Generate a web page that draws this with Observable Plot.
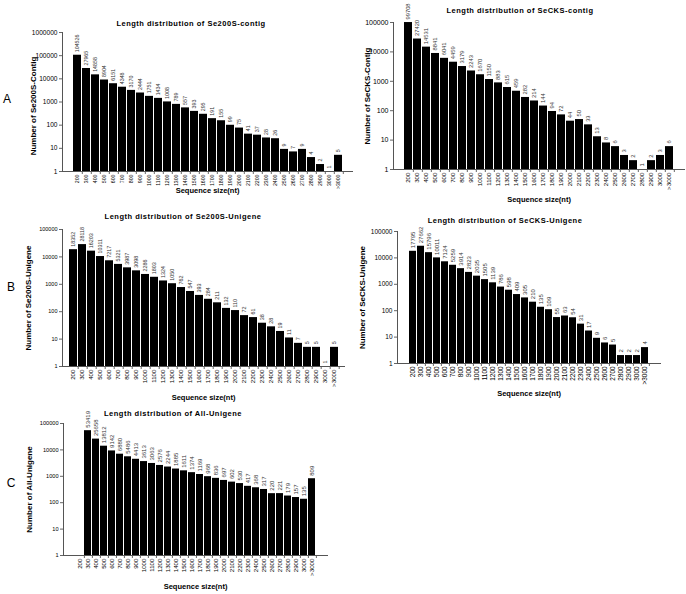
<!DOCTYPE html>
<html><head><meta charset="utf-8">
<script src="https://cdn.jsdelivr.net/npm/d3@7"></script>
<script src="https://cdn.jsdelivr.net/npm/@observablehq/plot@0.6"></script>
<style>
body{margin:0;background:#fff;}
#wrap{position:relative;width:686px;height:594px;font-family:"Liberation Sans",Arial,sans-serif;overflow:hidden;background:#fff;}
.panel{position:absolute;}
.title{position:absolute;font-weight:bold;font-size:7.5px;letter-spacing:0.5px;white-space:nowrap;line-height:1;transform:translate(-50%,-50%);color:#000;}
.letter{position:absolute;font-size:12px;line-height:1;transform:translate(-50%,-50%);color:#000;}
</style></head><body><div id="wrap"></div>
<script>
// ---- data ----
const sizes = ["200","300","400","500","600","700","800","900","1000","1100","1200","1300","1400","1500","1600","1700","1800","1900","2000","2100","2200","2300","2400","2500","2600","2700","2800","2900","3000",">3000"];
const se200sContig = [104526,27965,14858,8904,6151,4348,3170,2444,1751,1434,1008,789,557,393,295,191,155,99,75,41,37,28,26,9,7,9,4,2,1,5];
const secksContig = [99708,27420,14531,8841,6041,4459,3179,2243,1670,1150,883,615,459,282,214,144,94,72,44,50,33,13,8,6,3,2,1,2,3,6];
const se200sUnigene = [18352,28118,16203,10311,7217,5321,3987,3098,2286,1803,1324,1050,762,547,393,284,211,132,110,72,61,38,28,19,11,7,5,5,1,5];
const secksUnigene = [17795,27662,15796,10011,7124,5259,3914,2823,2035,1505,1139,786,598,409,305,210,135,109,55,63,54,31,17,9,6,5,2,2,2,4];
const allUnigene = [null,53419,25658,13812,9142,6880,5486,4413,3613,3063,2576,2244,1885,1611,1374,1169,968,836,697,602,530,417,368,317,220,221,179,157,135,809];
const titles = ["Length distribution of Se200S-contig","Length distribution of SeCKS-contig","Length distribution of Se200S-Unigene","Length distribution of SeCKS-Unigene","Length distribution of All-Unigene"];
const yTitles = ["Number of Se200S-Contig","Number of SeCKS-Contig","Number of Se200S-Unigene","Number of SeCKS-Unigene","Number of All-Unigene"];
const xTitle = "Sequence size(nt)";
const letters = ["A","B","C"];

// ---- layout ----
const layout = [
  {values: se200sContig, yMax:1e6, left:0, top:0, width:360, height:210, mL:62, mR:8, mT:32, mB:39, yDx:-29, yDy:4, xDy:19, fx:5.2, fy:6.6, fv:5.3, tx:191, ty:24},
  {values: secksContig, yMax:1e5, left:345, top:0, width:341, height:210, mL:48, mR:2, mT:22, mB:41, yDx:-26, yDy:0, xDy:30, fx:6.2, fy:7, fv:5.8, tx:520, ty:11},
  {values: se200sUnigene, yMax:1e5, left:0, top:210, width:355, height:200, mL:62, mR:11, mT:19, mB:44, yDx:-34, yDy:0, xDy:31, fx:6.2, fy:5.5, fv:5.4, tx:183, ty:217},
  {values: secksUnigene, yMax:1e5, left:345, top:210, width:341, height:200, mL:52, mR:26, mT:21, mB:47, yDx:-35, yDy:0, xDy:30, fx:6.4, fy:6.5, fv:6, tx:505, ty:221},
  {values: allUnigene, yMax:1e5, left:0, top:405, width:355, height:189, mL:63, mR:28, mT:18, mB:39, yDx:-34, yDy:0, xDy:31, fx:6.2, fy:5.6, fv:6, tx:173, ty:414}
];
const letterPos = [[7,99],[11,287],[11,483]];
const pad = 0.15;

const wrap = document.getElementById("wrap");
const font = '"Liberation Sans", Arial, sans-serif';

layout.forEach((p, k) => {
  const data = sizes.map((s, i) => ({size: s, count: p.values[i]})).filter(d => d.count != null);
  const ticks = d3.range(0, Math.round(Math.log10(p.yMax)) + 1).map(e => Math.pow(10, e));
  const step = (p.width - p.mL - p.mR) / (sizes.length - pad + 2 * pad);
  const chart = Plot.plot({
    width: p.width, height: p.height,
    marginLeft: p.mL, marginRight: p.mR, marginTop: p.mT, marginBottom: p.mB,
    style: {fontFamily: font, background: "transparent", color: "#000", overflow: "visible"},
    x: {domain: sizes, padding: pad, label: null},
    y: {type: "log", domain: [1, p.yMax], label: null},
    marks: [
      Plot.barY(data, {x: "size", y1: 1, y2: "count", fill: "#000"}),
      Plot.text(data, {x: "size", y: "count", text: d => String(d.count), rotate: -90, textAnchor: "start", dy: -3, fontSize: p.fv, fill: "#333"}),
      Plot.axisY({ticks, tickFormat: d3.format("d"), tickSize: 3, tickPadding: 2, fontSize: p.fy, stroke: "#666", label: null}),
      Plot.axisX({tickRotate: -90, tickSize: 0, tickPadding: 3, fontSize: p.fx, label: null}),
      Plot.axisX({tickSize: 3, tickFormat: () => "", dx: step / 2, stroke: "#666", label: null, ariaLabel: "x-minor"}),
      Plot.frame({anchor: "left", stroke: "#555"}),
      Plot.frame({anchor: "bottom", stroke: "#555"}),
      Plot.text([yTitles[k]], {text: d => d, frameAnchor: "left", textAnchor: "middle", lineAnchor: "middle", rotate: -90, dx: p.yDx, dy: p.yDy, fontSize: 8, fontWeight: "bold", ariaLabel: "ytitle"}),
      Plot.text([xTitle], {text: d => d, frameAnchor: "bottom", textAnchor: "middle", lineAnchor: "middle", dy: p.xDy, fontSize: 7.5, fontWeight: "bold", ariaLabel: "xtitle"})
    ]
  });
  d3.select(chart).selectAll('g[aria-label="ytitle"] text').attr("letter-spacing", "0.7px");
  d3.select(chart).selectAll('g[aria-label="xtitle"] text').attr("letter-spacing", "0.5px");
  const div = document.createElement("div");
  div.className = "panel";
  div.style.left = p.left + "px";
  div.style.top = p.top + "px";
  div.appendChild(chart);
  wrap.appendChild(div);
  const t = document.createElement("div");
  t.className = "title";
  t.textContent = titles[k];
  t.style.left = p.tx + "px";
  t.style.top = p.ty + "px";
  wrap.appendChild(t);
});
letters.forEach((l, i) => {
  const d = document.createElement("div");
  d.className = "letter";
  d.textContent = l;
  d.style.left = letterPos[i][0] + "px";
  d.style.top = letterPos[i][1] + "px";
  wrap.appendChild(d);
});
</script></body></html>
